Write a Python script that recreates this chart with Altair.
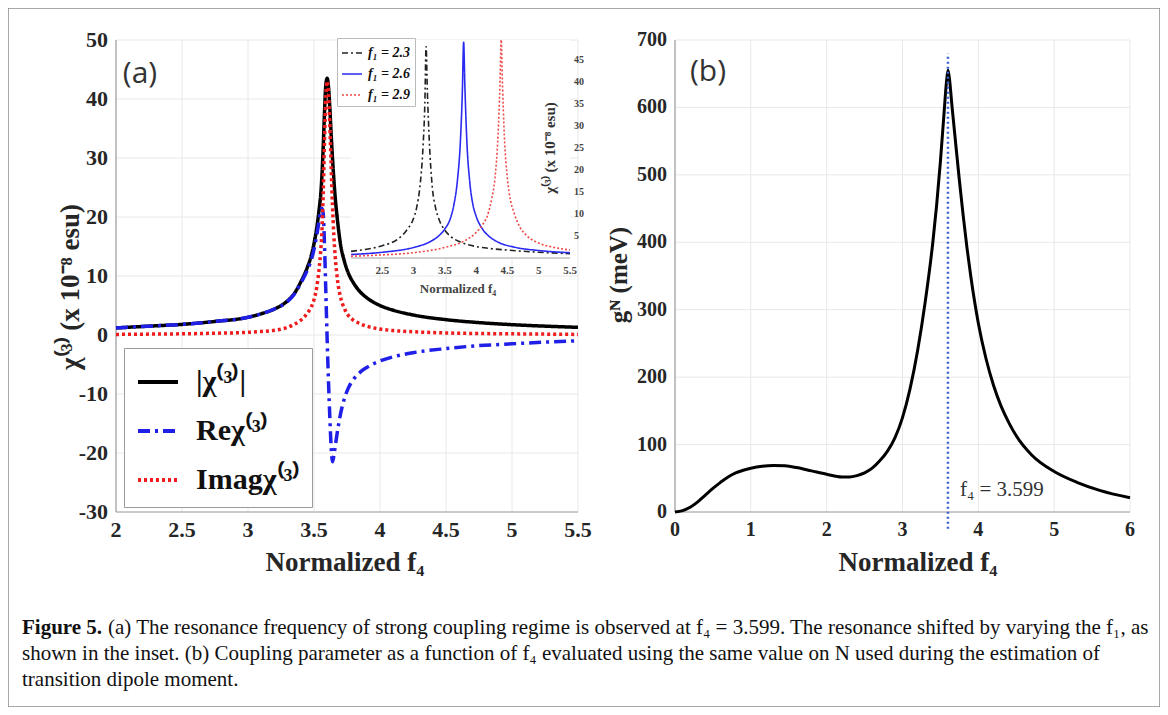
import altair as alt
import pandas as pd

SERIF = "Liberation Serif"
GRID = "#e8e8e8"
TXT = "#262626"
DOMAIN = "#a0a0a0"

# ---------------- panel (a): main curves ----------------
a_f4 = [2.0, 2.25, 2.5, 2.75, 3.0, 3.1, 3.2, 3.3, 3.35, 3.4, 3.45, 3.48, 3.5, 3.52, 3.54,
        3.55, 3.56, 3.57, 3.58, 3.59, 3.6, 3.61, 3.62, 3.63, 3.64, 3.65, 3.66, 3.68, 3.7,
        3.73, 3.76, 3.8, 3.85, 3.9, 4.0, 4.1, 4.25, 4.5, 4.75, 5.0, 5.25, 5.5]
a_abs = [1.2, 1.5, 1.8, 2.3, 3.0, 3.6, 4.4, 5.8, 7.0, 9.0, 11.5, 13.5, 15.5, 18.0, 21.5,
         23.5, 27.0, 32.0, 38.0, 42.5, 43.5, 42.0, 38.5, 34.0, 30.0, 26.5, 23.5, 19.0, 15.5,
         12.5, 10.5, 8.8, 7.3, 6.3, 5.0, 4.2, 3.4, 2.6, 2.1, 1.75, 1.5, 1.3]
a_re = [1.2, 1.5, 1.8, 2.3, 3.0, 3.6, 4.4, 5.7, 6.9, 8.8, 11.0, 12.8, 14.5, 16.8, 19.5,
        21.0, 21.5, 20.5, 15.0, 7.0, -1.0, -8.0, -14.0, -19.0, -21.5, -20.5, -19.0, -16.0, -13.5,
        -10.8, -9.0, -7.5, -6.3, -5.5, -4.4, -3.7, -3.0, -2.3, -1.8, -1.5, -1.2, -1.0]
a_im = [0.1, 0.15, 0.2, 0.3, 0.45, 0.6, 0.8, 1.3, 1.8, 2.5, 3.7, 4.8, 6.0, 8.0, 11.5,
        14.0, 17.5, 24.0, 33.0, 40.5, 43.0, 41.0, 35.5, 28.5, 22.0, 17.0, 13.5, 9.0, 6.5,
        4.5, 3.3, 2.5, 1.9, 1.5, 1.0, 0.75, 0.55, 0.35, 0.25, 0.2, 0.15, 0.1]
a_names = ["|χ⁽³⁾|", "Reχ⁽³⁾", "Imagχ⁽³⁾"]
a_colors = ["#000000", "#1f1fe8", "#ee1c1c"]
a_dashes = [[1, 0], [12, 5, 3, 5], [3, 3]]
a_xticks = [2, 2.5, 3, 3.5, 4, 4.5, 5, 5.5]
a_yticks = [-30, -20, -10, 0, 10, 20, 30, 40, 50]
a_xtitle = "Normalized f₄"
a_ytitle = "χ⁽³⁾ (x 10⁻⁸ esu)"

# ---------------- inset ----------------
ins_x_23 = [2.0, 2.25, 2.5, 2.75, 2.9, 3.0, 3.05, 3.1, 3.15, 3.18, 3.2, 3.22, 3.25, 3.3,
            3.35, 3.4, 3.5, 3.6, 3.75, 4.0, 4.25, 4.5, 5.0, 5.5]
ins_y_23 = [1.5, 2.0, 2.8, 4.3, 6.5, 9.0, 11.5, 16.0, 25.0, 35.0, 48.0, 38.0, 27.0, 16.0,
            11.5, 9.0, 6.3, 4.8, 3.6, 2.6, 2.1, 1.8, 1.3, 1.0]
ins_x_26 = [2.0, 2.5, 3.0, 3.25, 3.4, 3.5, 3.6, 3.65, 3.7, 3.75, 3.78, 3.8, 3.82, 3.85,
            3.9, 3.95, 4.0, 4.1, 4.2, 4.35, 4.6, 5.0, 5.5]
ins_y_26 = [0.8, 1.3, 2.4, 3.6, 5.0, 6.6, 9.5, 12.5, 17.5, 27.0, 38.0, 49.0, 39.0, 27.0,
            17.0, 12.0, 9.5, 6.6, 5.0, 3.6, 2.5, 1.7, 1.2]
ins_x_29 = [2.0, 2.5, 3.0, 3.5, 3.8, 4.0, 4.1, 4.2, 4.25, 4.3, 4.35, 4.38, 4.4, 4.42,
            4.45, 4.5, 4.55, 4.6, 4.7, 4.8, 5.0, 5.25, 5.5]
ins_y_29 = [0.4, 0.7, 1.2, 2.4, 3.8, 5.8, 7.5, 10.5, 13.5, 18.0, 28.0, 39.0, 49.5, 40.0,
            28.0, 18.0, 13.0, 10.5, 7.0, 5.2, 3.4, 2.4, 1.8]
ins_names = ["f₁ = 2.3", "f₁ = 2.6", "f₁ = 2.9"]
ins_colors = ["#222222", "#2a2af0", "#f04848"]
ins_dashes = [[6, 3, 2, 3], [1, 0], [2, 2]]
ins_xdomain = [2, 5.5]
ins_ydomain = [0, 49.5]
ins_xticks = [2.5, 3, 3.5, 4, 4.5, 5, 5.5]
ins_yticks = [5, 10, 15, 20, 25, 30, 35, 40, 45]
ins_xtitle = "Normalized f₄"
ins_ytitle = "χ⁽³⁾ (x 10⁻⁸ esu)"

# ---------------- panel (b) ----------------
b_x = [0, 0.1, 0.2, 0.3, 0.4, 0.5, 0.6, 0.7, 0.8, 0.9, 1.0, 1.15, 1.3, 1.45, 1.6, 1.8,
       2.0, 2.2, 2.3, 2.4, 2.5, 2.6, 2.7, 2.8, 2.9, 3.0, 3.1, 3.2, 3.3, 3.4, 3.45, 3.5,
       3.55, 3.58, 3.6, 3.62, 3.65, 3.7, 3.75, 3.8, 3.85, 3.9, 4.0, 4.1, 4.2, 4.3, 4.4,
       4.5, 4.7, 5.0, 5.3, 5.6, 6.0]
b_y = [0, 2, 7, 15, 25, 35, 44, 52, 58, 62, 65, 68, 69, 68.5, 66, 61,
       56, 52, 52, 54, 58, 65, 76, 90, 110, 140, 183, 240, 312, 400, 455, 520,
       595, 638, 655, 642, 605, 548, 492, 440, 392, 350, 280, 228, 188, 157, 133,
       113, 85, 60, 44, 32, 21]
b_res = [3.599]
b_res_label = ["f₄ = 3.599"]
b_xticks = [0, 1, 2, 3, 4, 5, 6]
b_yticks = [0, 100, 200, 300, 400, 500, 600, 700]
b_xtitle = "Normalized f₄"
b_ytitle = "gᴺ (meV)"

cap_bold = "Figure 5."
cap_line1 = ("(a) The resonance frequency of strong coupling regime is observed at f₄ = 3.599. "
             "The resonance shifted by varying the f₁, as")
cap_line2 = ("shown in the inset. (b) Coupling parameter as a function of f₄ evaluated using "
             "the same value on N used during the estimation of")
cap_line3 = "transition dipole moment."


def sc(domain, rng):
    return alt.Scale(domain=domain, range=rng, nice=False, zero=False)


XA = sc([min(a_xticks), max(a_xticks)], [108, 570])
YA = sc([min(a_yticks), max(a_yticks)], [504, 32])
XI = sc(ins_xdomain, [343, 562])
YI = sc(ins_ydomain, [250, 32])
XB = sc([min(b_xticks), max(b_xticks)], [667, 1122])
YB = sc([min(b_yticks), max(b_yticks)], [504, 32])


def fmt(v):
    return f"{v:g}"


def grid(xticks, yticks, X, Y):
    dv = pd.DataFrame({"v": xticks, "lo": min(yticks), "hi": max(yticks)})
    dh = pd.DataFrame({"v": yticks, "lo": min(xticks), "hi": max(xticks)})
    gv = alt.Chart(dv).mark_rule(color=GRID, strokeWidth=1).encode(
        x=alt.X("v:Q", scale=X, axis=None), y=alt.Y("lo:Q", scale=Y, axis=None), y2="hi:Q")
    gh = alt.Chart(dh).mark_rule(color=GRID, strokeWidth=1).encode(
        y=alt.Y("v:Q", scale=Y, axis=None), x=alt.X("lo:Q", scale=X, axis=None), x2="hi:Q")
    return [gv, gh]


def xaxis(X, Y, xdom, ybase, xticks, size, pad, color=TXT, line=True):
    out = []
    if line:
        d = pd.DataFrame({"a": [xdom[0]], "b": [xdom[1]], "c": [ybase]})
        out.append(alt.Chart(d).mark_rule(color=DOMAIN, strokeWidth=1.2).encode(
            x=alt.X("a:Q", scale=X, axis=None), x2="b:Q", y=alt.Y("c:Q", scale=Y, axis=None)))
    d = pd.DataFrame({"v": xticks, "t": [fmt(v) for v in xticks], "c": ybase})
    out.append(alt.Chart(d).mark_text(font=SERIF, fontSize=size, fontWeight="bold",
                                      color=color, baseline="top", dy=pad).encode(
        x=alt.X("v:Q", scale=X, axis=None), y=alt.Y("c:Q", scale=Y, axis=None), text="t:N"))
    return out


def yaxis(X, Y, ydom, xbase, yticks, size, pad, side="left", color=TXT, line=True):
    out = []
    if line:
        d = pd.DataFrame({"a": [ydom[0]], "b": [ydom[1]], "c": [xbase]})
        out.append(alt.Chart(d).mark_rule(color=DOMAIN, strokeWidth=1.2).encode(
            y=alt.Y("a:Q", scale=Y, axis=None), y2="b:Q", x=alt.X("c:Q", scale=X, axis=None)))
    d = pd.DataFrame({"v": yticks, "t": [fmt(v) for v in yticks], "c": xbase})
    out.append(alt.Chart(d).mark_text(font=SERIF, fontSize=size, fontWeight="bold",
                                      color=color, baseline="middle",
                                      align="right" if side == "left" else "left",
                                      dx=-pad if side == "left" else pad).encode(
        x=alt.X("c:Q", scale=X, axis=None), y=alt.Y("v:Q", scale=Y, axis=None), text="t:N"))
    return out


def label(text, x, y, **mk):
    return alt.Chart(pd.DataFrame({"t": [text]})).mark_text(**mk).encode(
        text="t:N", x=alt.value(x), y=alt.value(y))


# ---- panel (a)
df_a = pd.DataFrame({
    "f4": a_f4 * 3,
    "chi": a_abs + a_re + a_im,
    "series": [a_names[0]] * len(a_f4) + [a_names[1]] * len(a_f4) + [a_names[2]] * len(a_f4),
})
leg_a = alt.Legend(title=None, orient="none", legendX=116, legendY=340, symbolType="stroke",
                   symbolSize=1600, symbolStrokeWidth=4, labelFont=SERIF, labelFontSize=30,
                   labelFontWeight="bold", labelColor="#111111", padding=12, rowPadding=12,
                   labelOffset=16, strokeColor="#9a9a9a", fillColor="white", labelLimit=400)
lines_a = alt.Chart(df_a).mark_line(strokeWidth=3.5, interpolate="monotone").encode(
    x=alt.X("f4:Q", scale=XA, axis=None),
    y=alt.Y("chi:Q", scale=YA, axis=None),
    color=alt.Color("series:N", scale=alt.Scale(domain=a_names, range=a_colors), legend=leg_a),
    strokeDash=alt.StrokeDash("series:N", scale=alt.Scale(domain=a_names, range=a_dashes),
                              legend=leg_a),
)
a_sub = alt.layer(
    *grid(a_xticks, a_yticks, XA, YA),
    *xaxis(XA, YA, [min(a_xticks), max(a_xticks)], min(a_yticks), a_xticks, 22, 8),
    *yaxis(XA, YA, [min(a_yticks), max(a_yticks)], min(a_xticks), a_yticks, 22, 8),
    lines_a,
)

# ---- inset
df_i = pd.DataFrame({
    "f4": ins_x_23 + ins_x_26 + ins_x_29,
    "chi": ins_y_23 + ins_y_26 + ins_y_29,
    "f1": [ins_names[0]] * len(ins_x_23) + [ins_names[1]] * len(ins_x_26)
          + [ins_names[2]] * len(ins_x_29),
})
bg = alt.Chart(pd.DataFrame({"x0": [ins_xdomain[0]], "x1": [ins_xdomain[1]],
                             "y0": [ins_ydomain[0]], "y1": [ins_ydomain[1]]})).mark_rect(
    color="white").encode(x=alt.X("x0:Q", scale=XI, axis=None), x2="x1:Q",
                          y=alt.Y("y0:Q", scale=YI, axis=None), y2="y1:Q")
leg_i = alt.Legend(title=None, orient="none", legendX=329, legendY=30, symbolType="stroke",
                   symbolSize=400, symbolStrokeWidth=1.6, labelFont=SERIF, labelFontSize=14,
                   labelFontWeight="bold", labelFontStyle="italic", labelColor="#111111",
                   padding=4, rowPadding=3, labelOffset=5, strokeColor="#bbbbbb",
                   fillColor="white")
lines_i = alt.Chart(df_i).mark_line(strokeWidth=1.6, interpolate="monotone").encode(
    x=alt.X("f4:Q", scale=XI, axis=None),
    y=alt.Y("chi:Q", scale=YI, axis=None),
    color=alt.Color("f1:N", scale=alt.Scale(domain=ins_names, range=ins_colors), legend=leg_i),
    strokeDash=alt.StrokeDash("f1:N", scale=alt.Scale(domain=ins_names, range=ins_dashes),
                              legend=leg_i),
)
ins_sub = alt.layer(
    bg,
    *xaxis(XI, YI, ins_xdomain, ins_ydomain[0], ins_xticks, 11, 7, color="#444444"),
    *yaxis(XI, YI, ins_ydomain, ins_xdomain[1], ins_yticks, 10, 4, side="right",
           color="#444444", line=False),
    lines_i,
)

# ---- panel (b)
df_b = pd.DataFrame({"f4": b_x, "g": b_y})
line_b = alt.Chart(df_b).mark_line(strokeWidth=3, color="#000000", interpolate="monotone").encode(
    x=alt.X("f4:Q", scale=XB, axis=None),
    y=alt.Y("g:Q", scale=YB, axis=None),
)
df_r = pd.DataFrame({"x": b_res, "lo": [-25], "hi": [680], "t": b_res_label})
rule_b = alt.Chart(df_r).mark_rule(color="#3a62d0", strokeWidth=2.5, strokeDash=[2, 3]).encode(
    x=alt.X("x:Q", scale=XB, axis=None), y=alt.Y("lo:Q", scale=YB, axis=None), y2="hi:Q")
note_b = alt.Chart(df_r).mark_text(font=SERIF, fontSize=21, color="#333333", align="left",
                                   baseline="middle", dx=12).encode(
    x=alt.X("x:Q", scale=XB, axis=None), y=alt.value(482), text="t:N")
b_sub = alt.layer(
    *grid(b_xticks, b_yticks, XB, YB),
    *xaxis(XB, YB, [min(b_xticks), max(b_xticks)], min(b_yticks), b_xticks, 20, 8),
    *yaxis(XB, YB, [min(b_yticks), max(b_yticks)], min(b_xticks), b_yticks, 20, 8),
    line_b, rule_b, note_b,
)

# ---- annotations and titles
texts = [
    label("(a)", 132, 66, font="Open Sans", fontSize=30, color="#333333"),
    label("(b)", 700, 64, font="Open Sans", fontSize=30, color="#333333"),
    label(a_xtitle, 337, 555, font=SERIF, fontSize=27, fontWeight="bold", color=TXT),
    label(a_ytitle, 63, 279, font=SERIF, fontSize=27, fontWeight="bold", angle=270, color=TXT),
    label(b_xtitle, 910, 555, font=SERIF, fontSize=27, fontWeight="bold", color=TXT),
    label(b_ytitle, 611, 267, font=SERIF, fontSize=25, fontWeight="bold", angle=270, color=TXT),
    label(ins_xtitle, 450, 281, font=SERIF, fontSize=13, fontWeight="bold", color="#444444"),
    label(ins_ytitle, 542, 140, font=SERIF, fontSize=15, fontWeight="bold",
          angle=270, color="#333333"),
    label(cap_bold, 14, 620, font=SERIF, fontSize=21, fontWeight="bold", align="left",
          baseline="middle", color="#111111"),
    label(cap_line1, 100, 620, font=SERIF, fontSize=21, align="left", baseline="middle",
          color="#111111"),
    label(cap_line2, 14, 646, font=SERIF, fontSize=21, align="left", baseline="middle",
          color="#111111"),
    label(cap_line3, 14, 672, font=SERIF, fontSize=21, align="left", baseline="middle",
          color="#111111"),
]

chart = alt.layer(a_sub, ins_sub, b_sub, *texts).resolve_scale(
    x="independent", y="independent", color="independent", strokeDash="independent"
).properties(
    width=1152, height=699, autosize=alt.AutoSizeParams(type="none"), padding=0,
    background="white",
).configure_view(stroke="#8c8c8c", strokeWidth=1.5, fill="white")

chart.save("out.html", embed_options={"renderer": "svg", "actions": False})
